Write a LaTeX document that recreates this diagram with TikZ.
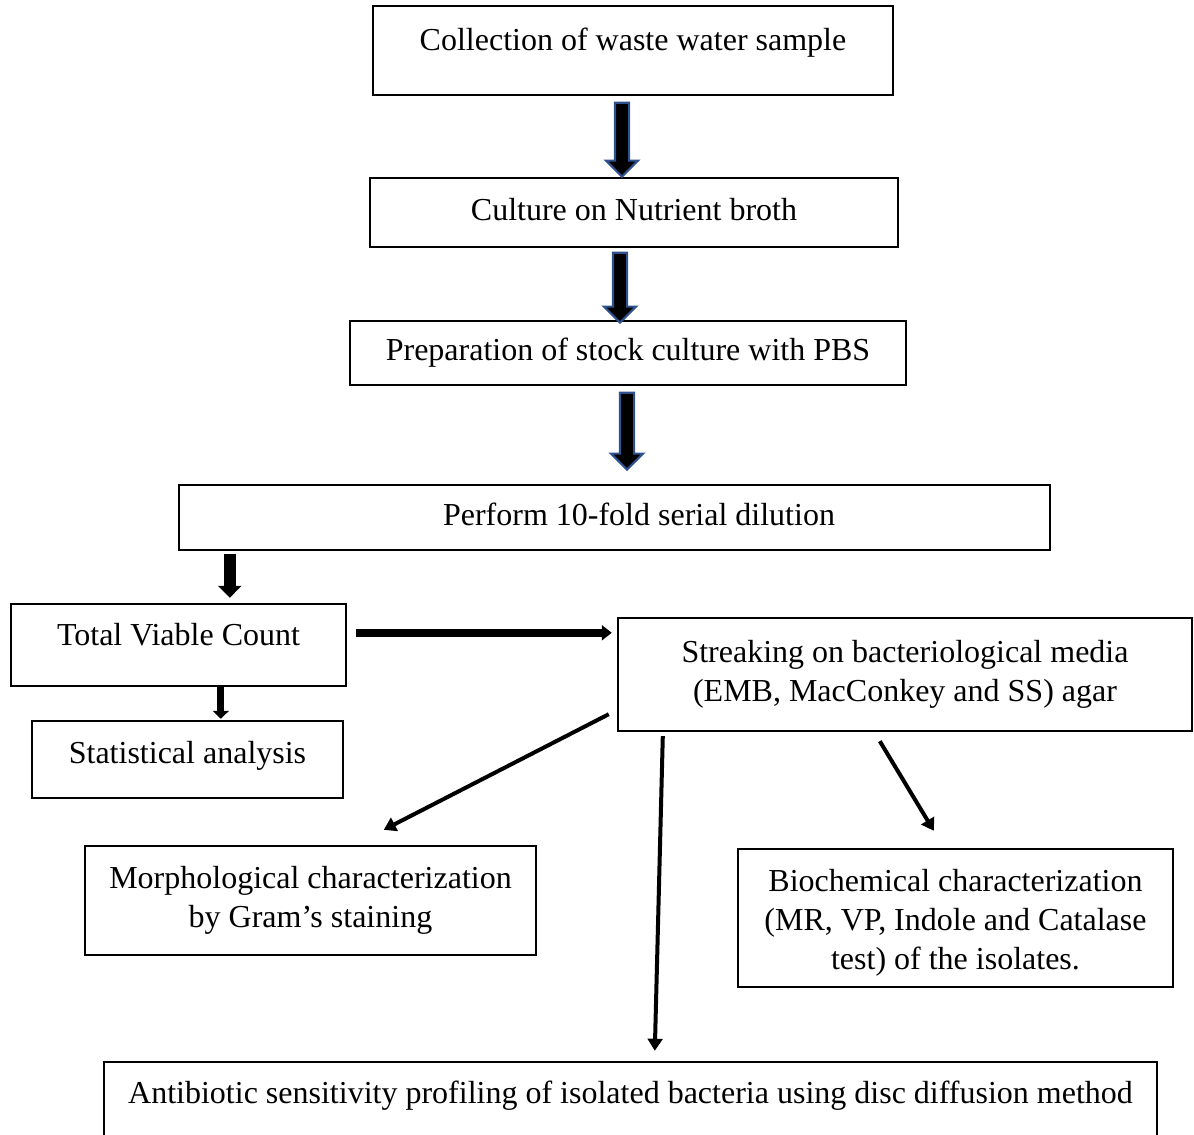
\documentclass[tikz,border=0pt]{standalone}
\usepackage{fontspec}
\setmainfont{Liberation Serif}
\usepackage{xcolor}
\usetikzlibrary{arrows.meta,calc,positioning,shapes.arrows}
\definecolor{arrowblue}{RGB}{47,82,143}
\newcommand\pxu{0.375pt}

\begin{document}
\begin{tikzpicture}[x=0.375pt,y=-0.375pt,
  every node/.style={font=\fontsize{12}{14.7}\selectfont},
  box/.style={draw,line width=0.9pt,align=center,inner sep=0pt},
  oneline/.style={box,text height=8.3pt,text depth=2.6pt},
  blockarrow/.style={single arrow,draw=arrowblue,fill=black,line width=0.8pt,minimum width=30*\pxu,
    single arrow head extend=9*\pxu,single arrow head indent=0pt,shape border rotate=270,inner sep=6*\pxu},
  flow/.style={-{Triangle[length=4.5pt,width=5.5pt]},line width=1.5pt}]
\useasboundingbox (0,0) rectangle (1194,1135);
\node[oneline,minimum width=520*\pxu,minimum height=89*\pxu,text depth=8.1pt] (collect) at (633,50.5) {Collection of waste water sample};
\node[oneline,minimum width=528*\pxu,minimum height=69*\pxu] (culture) at (634,212.5) {Culture on Nutrient broth};
\node[oneline,minimum width=556*\pxu,minimum height=64*\pxu] (prep) at (628,353) {Preparation of stock culture with PBS};
\node[oneline,minimum width=871*\pxu,minimum height=65*\pxu] (perform) at (614.5,517.5) {\hspace*{18.4pt}Perform 10-fold serial dilution};
\node[oneline,minimum width=335*\pxu,minimum height=82*\pxu,text depth=8.1pt] (tvc) at (178.5,645) {Total Viable Count};
\node[oneline,minimum width=311*\pxu,minimum height=77*\pxu,text depth=5.1pt] (stat) at (187.5,759.5) {Statistical analysis};
\node[box,minimum width=574*\pxu,minimum height=113*\pxu] (streak) at (905,674.5) {Streaking on bacteriological media\\(EMB, MacConkey and SS) agar};
\node[box,minimum width=451*\pxu,minimum height=109*\pxu] (morph) at (310.5,900.5) {Morphological characterization\\by Gram’s staining};
\node[box,minimum width=435*\pxu,minimum height=138*\pxu] (bio) at (955.5,918) {\rule{0pt}{12pt}Biochemical characterization\\(MR, VP, Indole and Catalase\\test) of the isolates.};
\node[oneline,minimum width=1053*\pxu,minimum height=88*\pxu,text depth=10.1pt] (anti) at (630.5,1106) {Antibiotic sensitivity profiling of isolated bacteria using disc diffusion method};

\node[blockarrow,minimum height=74*\pxu] (a1) at ($(collect.south)+(-11,40)$) {};
\node[blockarrow,minimum height=70*\pxu] (a2) at ($(culture.south)+(-14,36)$) {};
\node[blockarrow,minimum height=77*\pxu] (a3) at ($(prep.south)+(-1,41.5)$) {};

\draw[-{Triangle[length=4.5pt,width=8.6pt]},line width=4.5pt] ($(perform.south west)+(52,3)$) -- ($(tvc.north west)+(220,-5)$);
\draw[-{Triangle[length=3pt,width=6pt]},line width=2.6pt] ($(tvc.south west)+(211,0)$) -- ($(stat.north west)+(190,-1)$);
\draw[-{Triangle[length=3.75pt,width=5.6pt]},line width=3pt] ($(tvc.north east)+(9,30)$) -- ($(streak.north west)+(-5,16)$);
\draw[flow] ($(streak.south west)+(-8,-18)$) -- ($(morph.north west)+(300,-15)$);
\draw[flow] ($(streak.south west)+(46,4)$) -- ($(anti.north west)+(552,-10)$);
\draw[flow] ($(streak.south west)+(263,9)$) -- ($(bio.north west)+(197,-17)$);
\end{tikzpicture}
\end{document}
